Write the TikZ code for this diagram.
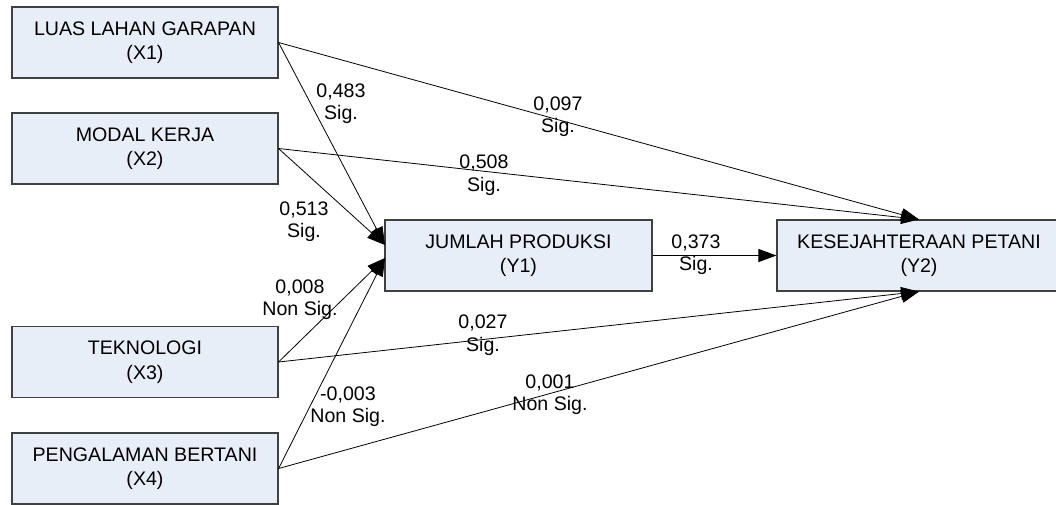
\documentclass[tikz,border=0pt]{standalone}
\usepackage{fontspec}
\setmainfont{Liberation Sans}
\usetikzlibrary{arrows.meta}
\definecolor{boxfill}{RGB}{232,238,247}
\definecolor{boxline}{RGB}{64,64,64}
\begin{document}
\begin{tikzpicture}[x=1pt,y=-1pt,
  varbox/.style={draw=boxline,fill=boxfill,line width=1.1pt,inner sep=0pt,align=center,
    minimum width=#1,minimum height=71pt,font=\fontsize{19.6}{24.5}\selectfont},
  varbox/.default=266pt,
  lbl/.style={align=center,inner sep=0pt,font=\fontsize{19.6}{22.5}\selectfont},
  conn/.style={line width=0.8pt,-{Triangle[length=18pt,width=13pt]}}]
\clip (0,0) rectangle (1056,504);
\useasboundingbox (0,0) rectangle (1056,504);
\node[varbox] (x1) at (145,42.5) {LUAS LAHAN GARAPAN\\(X1)};
\node[varbox] (x2) at (145,148.5) {MODAL KERJA\\(X2)};
\node[varbox] (x3) at (145,362) {TEKNOLOGI\\(X3)};
\node[varbox] (x4) at (145,468.5) {PENGALAMAN BERTANI\\(X4)};
\node[varbox=267pt] (y1) at (518.5,255.5) {JUMLAH PRODUKSI\\(Y1)};
\node[varbox=284pt] (y2) at (919,255.5) {KESEJAHTERAAN PETANI\\(Y2)};
\coordinate (y1a) at (385,245);
\coordinate (y1b) at (385,258);
\draw[conn] (x1.east) -- (y1a);
\draw[conn] (x2.east) -- (y1a);
\draw[conn] (x3.east) -- (y1b);
\draw[conn] (x4.east) -- (y1b);
\draw[conn] (x1.east) -- (y2.north);
\draw[conn] (x2.east) -- (y2.north);
\draw[conn] (x3.east) -- (y2.south);
\draw[conn] (x4.east) -- (y2.south);
\draw[conn] (y1.east) -- (y2.west);
\node[lbl] (l1) at (341,103.5) {0,483\\Sig.};
\node[lbl] (l2) at (558,116.5) {0,097\\Sig.};
\node[lbl] (l3) at (484,175) {0,508\\Sig.};
\node[lbl] (l4) at (304,221.5) {0,513\\Sig.};
\node[lbl] (l5) at (300,299.5) {0,008\\Non Sig.};
\node[lbl] (l6) at (348,406.5) {-0,003\\Non Sig.};
\node[lbl] (l7) at (483,335) {0,027\\Sig.};
\node[lbl] (l8) at (550,394.5) {0,001\\Non Sig.};
\node[lbl] (l9) at (696,254.5) {0,373\\Sig.};
\end{tikzpicture}
\end{document}
